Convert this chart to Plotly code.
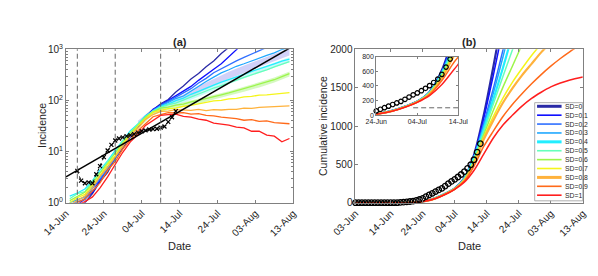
import plotly.graph_objects as go
import pandas as pd

W, H = 598, 276
FONT = "Liberation Sans, Arial, Helvetica, sans-serif"

# ---------------- labels / colours ----------------
sd_labels = ["SD=0", "SD=0.1", "SD=0.2", "SD=0.3", "SD=0.4", "SD=0.5",
             "SD=0.6", "SD=0.7", "SD=0.8", "SD=0.9", "SD=1"]
sd_colors = ["#2a2aa6", "#1010ff", "#2f6fff", "#20a8ff", "#22eeff", "#66ffbb",
             "#9cf54a", "#f5f51a", "#ffb23c", "#ff6a1a", "#ff1e1e"]
thick_labels = ["SD=0", "SD=0.4", "SD=0.8"]

# ---------------- panel (a): daily incidence (log) ----------------
inc_dates = pd.date_range("2020-06-15", periods=30, freq="2D")
inc_sd00 = [0.7, 0.8, 1.0, 1.5, 2.6, 3.9, 7.5, 11.5, 20, 31, 49, 66, 86, 104, 146, 192, 262, 335, 455, 590, 830, 1090, 1460]
inc_sd01 = [0.8, 0.9, 1.2, 1.6, 2.8, 4.4, 7.6, 12.8, 19.5, 31, 46, 67, 81, 99, 124, 152, 188, 247, 312, 408, 520, 715, 1010, 1350]
inc_sd02 = [0.9, 1.05, 1.15, 1.9, 2.9, 4.7, 7.4, 13.5, 20.5, 32, 45, 65, 79, 96, 117, 142, 170, 220, 270, 348, 418, 508, 592, 695, 805, 945, 1090]
inc_sd03 = [1.0, 1.15, 1.3, 2.05, 3.2, 5.1, 7.9, 13.8, 21.5, 32.5, 47, 62, 79, 91, 109, 122, 153, 186, 234, 286, 345, 398, 466, 522, 598, 662, 758, 850, 990, 1100]
inc_sd04 = [1.35, 1.55, 1.85, 2.7, 4.4, 6.6, 10.5, 16, 25.5, 34.5, 50, 62, 77, 85, 99, 111, 132, 150, 176, 199, 228, 255, 294, 325, 370, 410, 465, 520, 585, 640]
inc_sd05 = [1.2, 1.5, 1.65, 2.65, 3.9, 6.4, 9.4, 16.3, 23.5, 34.5, 47, 63, 73, 83, 89, 102, 115, 134, 150, 175, 194, 223, 249, 283, 314, 358, 398, 455, 508, 572]
inc_sd06 = [1.1, 1.35, 1.6, 2.35, 3.85, 5.9, 9.2, 14.6, 23.5, 32.5, 47.5, 59, 71, 74, 81, 85, 94, 100, 110, 117, 129, 140, 154, 168, 188, 204, 231, 254, 293, 335]
inc_sd07 = [1.0, 1.25, 1.45, 2.25, 3.4, 5.6, 8.3, 14.2, 21.5, 31.5, 44, 59, 64, 69, 71, 77, 80, 86, 90, 98, 100, 107, 110, 117, 120, 127, 128, 134, 137, 142]
inc_sd08 = [0.9, 1.1, 1.35, 1.95, 3.3, 4.9, 8.1, 12.7, 20.5, 28.5, 42.5, 53, 61, 62, 66, 65, 64, 67, 63, 66, 65, 67, 67, 71, 70, 73, 74, 76, 75, 78]
inc_sd09 = [0.8, 1.0, 1.2, 1.75, 2.45, 4.3, 6.4, 11.2, 16.5, 25.5, 35, 48, 53, 58, 57, 58, 54, 55, 51, 50, 47, 46, 44, 41, 42, 39, 40, 37, 36, 35]
inc_sd10 = [0.7, 0.9, 1.05, 1.3, 1.95, 3.2, 5.6, 9.7, 15.5, 21.5, 32.5, 41, 51, 53, 54, 49, 47, 43, 41, 36, 35, 33, 30, 29, 25, 25, 21, 20, 15.5, 18]

band_dates = pd.date_range("2020-07-03", periods=11, freq="4D")
band_purple_lo = [30, 56, 78, 100, 140, 195, 265, 345, 445, 580, 760]
band_purple_hi = [40, 70, 98, 130, 190, 265, 365, 480, 620, 800, 1050]
band_cyan_lo = [30, 55, 72, 90, 118, 160, 210, 270, 345, 440, 560]
band_cyan_hi = [38, 66, 88, 112, 148, 200, 265, 340, 430, 550, 700]
band_green_lo = [28, 53, 65, 75, 86, 104, 122, 148, 180, 225, 295]
band_green_hi = [36, 63, 78, 92, 106, 128, 152, 185, 225, 280, 370]

obs_inc_dates = pd.date_range("2020-06-17", periods=27)
obs_inc = [4.2, 2.7, 2.4, 2.5, 2.4, 3.6, 5.2, 7.8, 10.5, 13.5, 16.5, 18, 19, 20,
           21, 22, 23.5, 25, 26, 27, 27.5, 28, 29.5, 31, 38, 47, 62]

fit_dates = ["2020-06-14", "2020-08-13"]
fit_vals = [3.2, 1160]

intervention_dates = ["2020-06-17", "2020-06-27", "2020-07-09"]

a_ticks = pd.date_range("2020-06-14", periods=7, freq="10D")
a_ytick_vals = [1, 10, 100, 1000]
a_ytick_text = ["10<sup>0</sup>", "10<sup>1</sup>", "10<sup>2</sup>", "10<sup>3</sup>"]

# ---------------- panel (b): cumulative incidence ----------------
cum_dates = ["2020-06-03", "2020-06-14", "2020-06-19", "2020-06-22", "2020-06-25",
             "2020-06-28", "2020-07-01", "2020-07-04", "2020-07-07", "2020-07-10",
             "2020-07-13", "2020-07-16", "2020-07-19", "2020-07-22", "2020-07-25",
             "2020-07-28", "2020-07-31", "2020-08-03", "2020-08-06", "2020-08-09",
             "2020-08-13"]
cum_sd00 = [0, 0, 1, 6, 26, 62, 118, 188, 320, 620, 1130, 1760, 2450]
cum_sd01 = [0, 0, 1, 6, 26, 62, 118, 187, 318, 610, 1090, 1650, 2250]
cum_sd02 = [0, 0, 1, 6, 25, 61, 117, 186, 316, 600, 1030, 1480, 1980, 2500]
cum_sd03 = [0, 0, 1, 5, 25, 61, 116, 185, 314, 590, 990, 1420, 1890, 2390]
cum_sd04 = [0, 0, 1, 5, 25, 60, 116, 185, 312, 580, 950, 1340, 1750, 2190]
cum_sd05 = [0, 0, 1, 5, 24, 60, 115, 184, 308, 565, 920, 1280, 1640, 1990, 2340]
cum_sd06 = [0, 0, 1, 5, 24, 59, 114, 183, 304, 545, 880, 1200, 1500, 1780, 2060, 2340]
cum_sd07 = [0, 0, 1, 5, 23, 58, 113, 182, 298, 525, 850, 1120, 1360, 1570, 1750, 1920, 2070]
cum_sd08 = [0, 0, 1, 5, 23, 57, 112, 180, 292, 505, 820, 1070, 1300, 1490, 1660, 1810, 1960, 2090]
cum_sd09 = [0, 0, 1, 5, 22, 56, 110, 178, 282, 475, 730, 930, 1120, 1280, 1420, 1550, 1670, 1780, 1880, 1970, 2080]
cum_sd10 = [0, 0, 1, 4, 22, 55, 107, 175, 268, 420, 630, 840, 1010, 1140, 1260, 1360, 1440, 1510, 1560, 1600, 1640]

obs_cum_dates = pd.date_range("2020-06-03", periods=40)
obs_cum = [0, 0, 0, 0, 0, 0, 0, 0, 0, 0, 0, 0, 0, 0,
           4, 7, 11, 16, 22, 30, 42, 57, 80, 102, 123, 145, 167, 188,
           217, 248, 278, 305, 335, 368, 405, 448, 495, 560, 660, 770]

b_ticks = ["2020-06-03", "2020-06-14", "2020-06-24", "2020-07-04",
           "2020-07-14", "2020-07-24", "2020-08-03", "2020-08-13"]
inset_ticks = ["2020-06-24", "2020-07-04", "2020-07-14"]
threshold_dates = ["2020-07-03", "2020-07-14"]
threshold_val = 100

inc_series = [inc_sd00, inc_sd01, inc_sd02, inc_sd03, inc_sd04, inc_sd05,
              inc_sd06, inc_sd07, inc_sd08, inc_sd09, inc_sd10]
cum_series = [cum_sd00, cum_sd01, cum_sd02, cum_sd03, cum_sd04, cum_sd05,
              cum_sd06, cum_sd07, cum_sd08, cum_sd09, cum_sd10]


def pxx(p):
    return p / W


def pxy(p):
    return 1 - p / H


fig = go.Figure()

# ---- panel (a) bands
for lo, hi, col in [(band_purple_lo, band_purple_hi, "rgba(185,185,245,0.65)"),
                    (band_cyan_lo, band_cyan_hi, "rgba(165,245,245,0.6)"),
                    (band_green_lo, band_green_hi, "rgba(185,245,150,0.6)")]:
    fig.add_trace(go.Scatter(x=band_dates, y=lo, mode="lines", line=dict(width=0),
                             xaxis="x", yaxis="y", showlegend=False, hoverinfo="skip"))
    fig.add_trace(go.Scatter(x=band_dates, y=hi, mode="lines", line=dict(width=0),
                             fill="tonexty", fillcolor=col, xaxis="x", yaxis="y",
                             showlegend=False, hoverinfo="skip"))

# ---- panel (a) model lines
for lab, col, vals in zip(sd_labels, sd_colors, inc_series):
    fig.add_trace(go.Scatter(x=inc_dates[:len(vals)], y=vals, mode="lines",
                             line=dict(color=col, width=1.3),
                             xaxis="x", yaxis="y", showlegend=False, name=lab))

fig.add_trace(go.Scatter(x=fit_dates, y=fit_vals, mode="lines",
                         line=dict(color="black", width=1.5),
                         xaxis="x", yaxis="y", showlegend=False))
fig.add_trace(go.Scatter(x=obs_inc_dates, y=obs_inc, mode="lines+markers",
                         line=dict(color="black", width=1, dash="dot"),
                         marker=dict(symbol="x-thin-open", size=4, color="black",
                                     line=dict(color="black", width=1.2)),
                         xaxis="x", yaxis="y", showlegend=False))

# ---- panel (b) model curves
for lab, col, vals in zip(sd_labels, sd_colors, cum_series):
    w = 2.2 if lab in thick_labels else 1.5
    fig.add_trace(go.Scatter(x=cum_dates[:len(vals)], y=vals, mode="lines",
                             line=dict(color=col, width=w, shape="spline", smoothing=0.8),
                             xaxis="x2", yaxis="y2", showlegend=False, name=lab))
fig.add_trace(go.Scatter(x=obs_cum_dates, y=obs_cum, mode="markers",
                         marker=dict(symbol="circle-open", size=5.5, color="black",
                                     line=dict(color="black", width=1.3)),
                         cliponaxis=False, xaxis="x2", yaxis="y2", showlegend=False))

# ---- inset
for lab, col, vals in zip(sd_labels, sd_colors, cum_series):
    w = 2.0 if lab in thick_labels else 1.4
    fig.add_trace(go.Scatter(x=cum_dates[:len(vals)], y=vals, mode="lines",
                             line=dict(color=col, width=w, shape="spline", smoothing=0.8),
                             xaxis="x3", yaxis="y3", showlegend=False))
fig.add_trace(go.Scatter(x=threshold_dates, y=[threshold_val] * len(threshold_dates),
                         mode="lines", line=dict(color="#666666", width=1, dash="5px,3px"),
                         xaxis="x3", yaxis="y3", showlegend=False))
fig.add_trace(go.Scatter(x=obs_cum_dates, y=obs_cum, mode="markers",
                         marker=dict(symbol="circle-open", size=4.5, color="black",
                                     line=dict(color="black", width=1.2)),
                         cliponaxis=False, xaxis="x3", yaxis="y3", showlegend=False))

# ---------------- axes ----------------
AXC = "#808080"
TXT = "#262626"


def ax(**kw):
    d = dict(showline=True, linecolor=AXC, linewidth=1, mirror="ticks",
             ticks="inside", ticklen=3, tickcolor=AXC, showgrid=False, zeroline=False,
             tickfont=dict(size=10, color=TXT, family=FONT))
    d.update(kw)
    return d


xa_dom = [pxx(36), pxx(277)]
xb_dom = [pxx(343), pxx(584)]
y_dom = [pxy(197), pxy(36)]

fig.update_layout(
    width=W, height=H, margin=dict(l=0, r=0, t=0, b=0),
    paper_bgcolor="white", plot_bgcolor="white",
    font=dict(family=FONT, color=TXT),
    showlegend=False,
    xaxis=ax(domain=xa_dom, anchor="y", type="date",
             range=["2020-06-14", "2020-08-13"], tickvals=a_ticks,
             tickformat="%d-%b", tickangle=-45),
    yaxis=ax(domain=y_dom, anchor="x", type="log", range=[0, 3],
             tickvals=a_ytick_vals, ticktext=a_ytick_text,
             minor=dict(ticks="inside", ticklen=2, tickcolor=AXC, dtick="D1", showgrid=False)),
    xaxis2=ax(domain=xb_dom, anchor="y2", type="date",
              range=["2020-06-03", "2020-08-13"], tickvals=b_ticks,
              tickformat="%d-%b", tickangle=-45),
    yaxis2=ax(domain=y_dom, anchor="x2", range=[0, 2000], dtick=500),
    xaxis3=ax(domain=[pxx(365), pxx(452)], anchor="y3", type="date",
              range=["2020-06-24", "2020-07-14"], tickvals=inset_ticks,
              tickformat="%d-%b", tickangle=0, ticklen=2,
              tickfont=dict(size=7, color=TXT, family=FONT)),
    yaxis3=ax(domain=[pxy(105), pxy(44)], anchor="x3", range=[0, 800], dtick=200,
              ticklen=2, tickfont=dict(size=7, color=TXT, family=FONT)),
)

# vertical dashed intervention lines (panel a)
for d in intervention_dates:
    fig.add_shape(type="line", xref="x", yref="y domain", x0=d, x1=d, y0=0, y1=1,
                  line=dict(color="#666666", width=1, dash="5px,3px"), layer="above")

# ---------------- titles / labels ----------------
ann = [
    dict(text="<b>(a)</b>", x=pxx(156.5), y=pxy(28), size=11, angle=0),
    dict(text="<b>(b)</b>", x=pxx(463.5), y=pxy(28), size=11, angle=0),
    dict(text="Incidence", x=pxx(10), y=pxy(116), size=10.5, angle=-90),
    dict(text="Cumulative incidence", x=pxx(308), y=pxy(116), size=10.5, angle=-90),
    dict(text="Date", x=pxx(156.5), y=pxy(242), size=11, angle=0),
    dict(text="Date", x=pxx(463.5), y=pxy(242), size=11, angle=0),
]
for a in ann:
    fig.add_annotation(text=a["text"], x=a["x"], y=a["y"], xref="paper", yref="paper",
                       xanchor="center", yanchor="middle", showarrow=False,
                       textangle=a["angle"], font=dict(size=a["size"], color=TXT, family=FONT))

# ---------------- legend (drawn manually, panel b) ----------------
leg_l, leg_t, leg_r, leg_b = 533, 92, 584, 195
fig.add_shape(type="rect", xref="paper", yref="paper",
              x0=pxx(leg_l), x1=pxx(leg_r), y0=pxy(leg_b), y1=pxy(leg_t),
              fillcolor="white", line=dict(color="#9a9a9a", width=0.8), layer="above")
row0, step = 95.8, 9.33
for i, (lab, col) in enumerate(zip(sd_labels, sd_colors)):
    yy = row0 + i * step
    w = 3 if lab in thick_labels else 1.6
    fig.add_shape(type="line", xref="paper", yref="paper",
                  x0=pxx(535.5), x1=pxx(561.5), y0=pxy(yy), y1=pxy(yy),
                  line=dict(color=col, width=w), layer="above")
    fig.add_annotation(text=lab, x=pxx(563), y=pxy(yy), xref="paper", yref="paper",
                       xanchor="left", yanchor="middle", showarrow=False,
                       font=dict(size=6.8, color=TXT, family=FONT))

fig.write_html("out.html")
